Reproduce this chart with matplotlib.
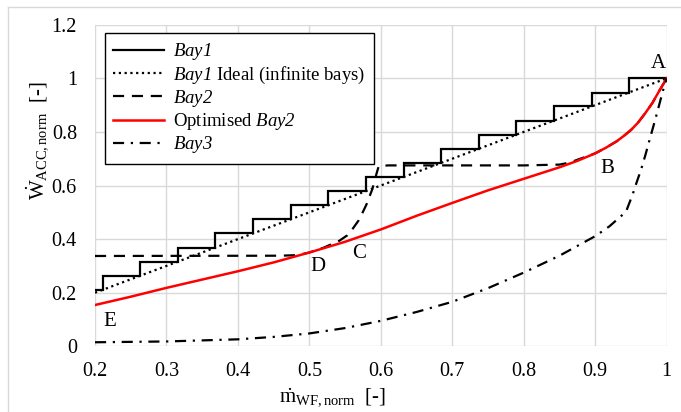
import matplotlib
matplotlib.use("Agg")
import matplotlib.pyplot as plt
from matplotlib.lines import Line2D

# ---------------- data ----------------
bay1_x = [0.2, 0.211, 0.211, 0.263, 0.263, 0.316, 0.316, 0.368, 0.368, 0.421, 0.421,
          0.474, 0.474, 0.526, 0.526, 0.579, 0.579, 0.632, 0.632, 0.684, 0.684,
          0.737, 0.737, 0.789, 0.789, 0.842, 0.842, 0.895, 0.895, 0.947, 0.947, 1.0]
bay1_y = [0.211, 0.211, 0.263, 0.263, 0.316, 0.316, 0.368, 0.368, 0.421, 0.421, 0.474,
          0.474, 0.526, 0.526, 0.579, 0.579, 0.632, 0.632, 0.684, 0.684, 0.737,
          0.737, 0.789, 0.789, 0.842, 0.842, 0.895, 0.895, 0.947, 0.947, 1.0, 1.0]

ideal_x = [0.2, 1.0]
ideal_y = [0.2, 1.0]

bay2_x = [0.2, 0.46, 0.48, 0.49, 0.5, 0.52, 0.542, 0.553, 0.561, 0.569, 0.575, 0.58,
          0.584, 0.588, 0.591, 0.594, 0.597, 0.61, 0.7, 0.8, 0.85, 0.865, 0.878, 0.89,
          0.9, 0.915, 0.93, 0.94, 0.95, 0.96, 0.97, 0.98, 0.99, 1.0]
bay2_y = [0.337, 0.338, 0.34, 0.344, 0.35, 0.368, 0.394, 0.414, 0.44, 0.47, 0.502, 0.53,
          0.558, 0.586, 0.614, 0.645, 0.672, 0.675, 0.675, 0.675, 0.678, 0.686, 0.699, 0.71,
          0.72, 0.741, 0.765, 0.785, 0.807, 0.835, 0.87, 0.908, 0.955, 1.0]

opt_x = [0.2, 0.25, 0.3, 0.35, 0.4, 0.45, 0.5, 0.55, 0.6, 0.65, 0.7, 0.75, 0.8, 0.85,
         0.875, 0.9, 0.915, 0.93, 0.94, 0.95, 0.96, 0.97, 0.98, 0.99, 1.0]
opt_y = [0.154, 0.185, 0.218, 0.249, 0.28, 0.313, 0.35, 0.39, 0.436, 0.487, 0.535, 0.582,
         0.625, 0.668, 0.692, 0.72, 0.741, 0.765, 0.785, 0.807, 0.835, 0.87, 0.908, 0.955, 1.0]

bay3_x = [0.2, 0.3, 0.4, 0.45, 0.5, 0.55, 0.6, 0.65, 0.7, 0.75, 0.8, 0.85, 0.9, 0.92,
          0.943, 0.952, 0.959, 0.964, 0.97, 0.976, 0.985, 0.995, 1.0]
bay3_y = [0.015, 0.018, 0.026, 0.035, 0.048, 0.068, 0.095, 0.128, 0.166, 0.217, 0.275,
          0.338, 0.411, 0.448, 0.502, 0.564, 0.62, 0.658, 0.712, 0.77, 0.856, 0.956, 1.0]

point_labels = ["A", "B", "C", "D", "E"]
point_x = [0.989, 0.917, 0.569, 0.512, 0.220]
point_y = [1.056, 0.664, 0.347, 0.297, 0.092]

xticks = [0.2, 0.3, 0.4, 0.5, 0.6, 0.7, 0.8, 0.9, 1.0]
xticklabels = ["0.2", "0.3", "0.4", "0.5", "0.6", "0.7", "0.8", "0.9", "1"]
yticks = [0, 0.2, 0.4, 0.6, 0.8, 1.0, 1.2]
yticklabels = ["0", "0.2", "0.4", "0.6", "0.8", "1", "1.2"]

# ---------------- style ----------------
plt.rcParams['font.family'] = ['Liberation Serif', 'DejaVu Serif']
plt.rcParams['mathtext.fontset'] = 'custom'
plt.rcParams['mathtext.rm'] = 'Liberation Serif'
plt.rcParams['mathtext.it'] = 'Liberation Serif:italic'
plt.rcParams['mathtext.sf'] = 'Liberation Serif:italic'   # used for fully italic names (digits too)
plt.rcParams['mathtext.bf'] = 'Liberation Serif:bold'

fig = plt.figure(figsize=(6.81, 4.12), dpi=100)
ax = fig.add_axes([0.1395, 0.1595, 0.8395, 0.7805])

grid_c = '#d9d9d9'
ax.set_xlim(0.2, 1.0)
ax.set_ylim(0, 1.2)
ax.set_xticks(xticks)
ax.set_xticklabels(xticklabels)
ax.set_yticks(yticks)
ax.set_yticklabels(yticklabels)
ax.grid(True, color=grid_c, linewidth=1.0)
ax.set_axisbelow(True)
for s in ax.spines.values():
    s.set_visible(False)
ax.tick_params(axis='both', length=0, labelsize=14.5, colors='black')
ax.tick_params(axis='x', pad=11)
ax.tick_params(axis='y', pad=13)

# lines
ax.plot(bay1_x, bay1_y, color='black', lw=1.6, solid_joinstyle='miter', label=r'$\mathsf{Bay1}$')
ax.plot(ideal_x, ideal_y, color='black', lw=1.6, linestyle=(0, (1, 1.6)),
        label=r'$\mathsf{Bay1}$ Ideal (infinite bays)')
ax.plot(bay2_x, bay2_y, color='black', lw=1.6, linestyle=(0, (5, 3.5)), label=r'$\mathsf{Bay2}$')
ax.plot(opt_x, opt_y, color='#ff0000', lw=1.8, label=r'Optimised $\mathsf{Bay2}$')
ax.plot(bay3_x, bay3_y, color='black', lw=1.6, linestyle=(0, (5, 3, 1, 3)), label=r'$\mathsf{Bay3}$')

for lab, px, py in zip(point_labels, point_x, point_y):
    ax.text(px, py, lab, fontsize=15, ha='center', va='center')

leg = ax.legend(loc='upper left', bbox_to_anchor=(0.0175, 0.975), borderaxespad=0,
                fontsize=13.5, frameon=True, fancybox=False, edgecolor='black',
                handlelength=2.7, handletextpad=0.5, labelspacing=0.12,
                borderpad=0.45)
leg.get_frame().set_linewidth(1.0)
leg.get_frame().set_facecolor('white')
leg.get_frame().set_alpha(1)

ax.set_xlabel(r'$\dot{\mathrm{m}}_{\mathrm{WF,norm}}$  [-]', fontsize=15)
ax.xaxis.label.set_va('center')
ax.xaxis.set_label_coords(0.416, -0.16)
ax.set_ylabel(r'$\dot{\mathrm{W}}_{\mathrm{ACC,norm}}$  [-]', fontsize=15)
ax.yaxis.label.set_va('center')
ax.yaxis.set_label_coords(-0.101, 0.641)

# outer chart border (top & left)
fig.add_artist(Line2D([8/681, 8/681], [0, 1 - 6.5/412], transform=fig.transFigure,
                      color='#d9d9d9', lw=1))
fig.add_artist(Line2D([8/681, 1], [1 - 6.5/412, 1 - 6.5/412], transform=fig.transFigure,
                      color='#d9d9d9', lw=1))

fig.savefig('out.png', dpi=100)
